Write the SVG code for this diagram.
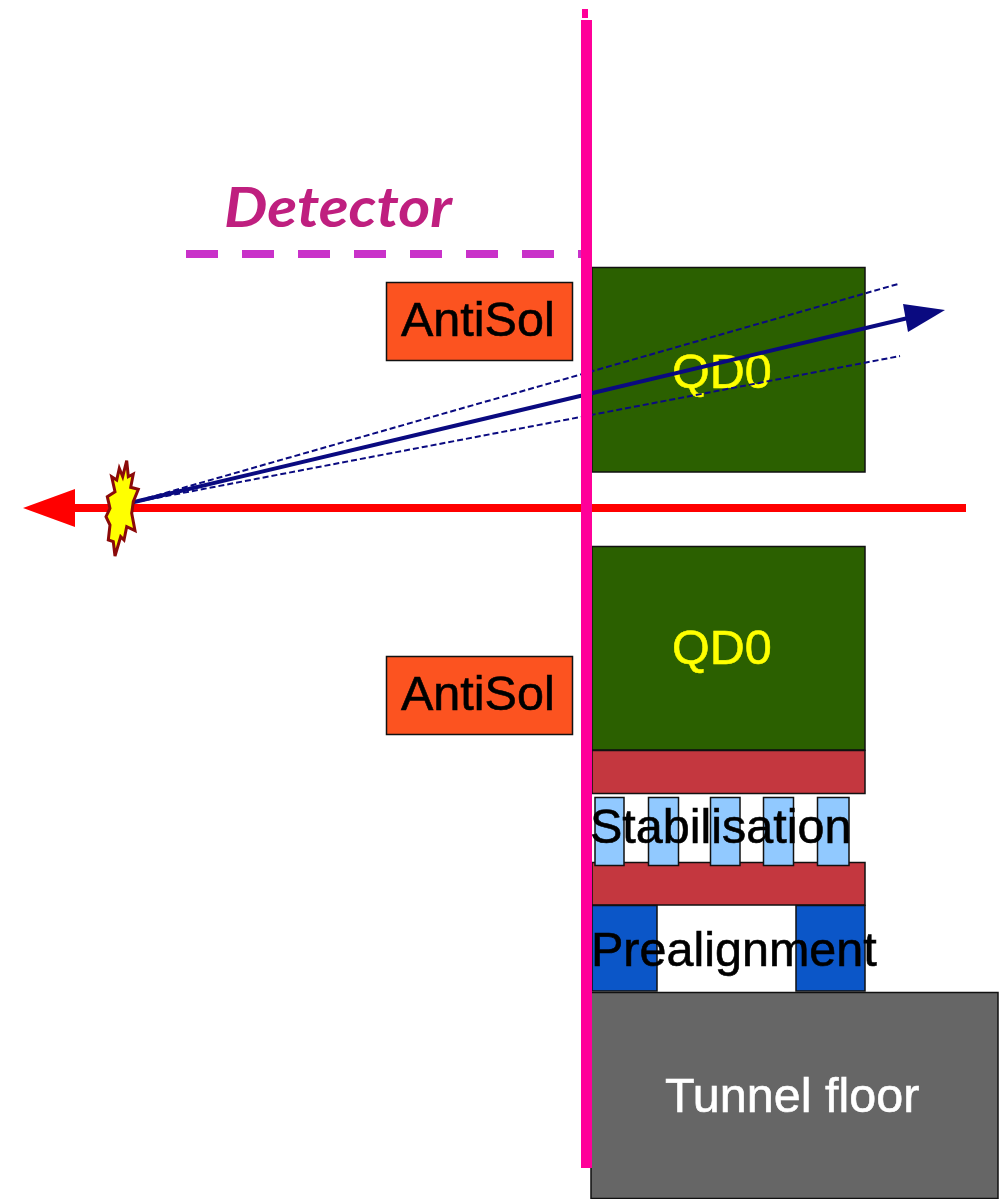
<svg xmlns="http://www.w3.org/2000/svg" width="999" height="1199" viewBox="0 0 999 1199">
<defs>
<marker id="redHead" markerUnits="userSpaceOnUse" markerWidth="54" markerHeight="38" refX="0" refY="19" orient="auto"><path d="M0 0L52 19L0 38Z" fill="#ff0000"/></marker>
</defs>
<style>
text{font-family:"Liberation Sans",Arial,sans-serif;font-size:48.500px;stroke-width:0.600px}
.box{stroke:#111;stroke-width:1.5}
.qd{fill:#2b6000}
.anti{fill:#fc5320}
.plate{fill:#c4373f}
.spring{fill:#91c9ff}
.pre{fill:#0b56c8}
.lab{fill:#000;stroke:#000}
.yel{fill:#ffff00;stroke:#ffff00}
.beam{stroke:#0a0a80;fill:none}
.dash{stroke-width:2;stroke-dasharray:6 3}
</style>
<rect width="999" height="1199" fill="#fff"/>
<g id="detector-label"><text x="224" y="227" style="font-family:Lato,'Open Sans',sans-serif;font-size:56px;font-weight:700;font-style:italic;fill:#bf1f7f;stroke:none" textLength="228" lengthAdjust="spacingAndGlyphs">Detector</text></g>
<g id="antisol-top"><rect class="box anti" x="386.500" y="282.500" width="186" height="78"/><text class="lab" x="401" y="336">AntiSol</text></g>
<g id="qd0-top"><rect class="box qd" x="592" y="267.500" width="273" height="204.500"/><text class="yel" x="672" y="388">QD0</text></g>
<g id="qd0-bottom"><rect class="box qd" x="592" y="546.500" width="273" height="203.500"/><text class="yel" x="672" y="664">QD0</text></g>
<g id="antisol-bottom"><rect class="box anti" x="386.500" y="656.500" width="186" height="78"/><text class="lab" x="401" y="710">AntiSol</text></g>
<g id="plate-upper"><rect class="box plate" x="592" y="750.500" width="273" height="43"/></g>
<g id="plate-lower"><rect class="box plate" x="592" y="862.500" width="273" height="42.500"/></g>
<g id="stabilisation">
<rect class="box spring" x="595" y="797.500" width="29" height="68"/>
<rect class="box spring" x="648.500" y="797.500" width="30" height="68"/>
<rect class="box spring" x="710.500" y="797.500" width="29.500" height="68"/>
<rect class="box spring" x="763.500" y="797.500" width="30" height="68"/>
<rect class="box spring" x="817.500" y="797.500" width="31.500" height="68"/>
<text class="lab" x="590" y="843">Stabilisation</text>
</g>
<g id="prealignment">
<rect class="box pre" x="592" y="905.500" width="65" height="85.500"/>
<rect class="box pre" x="796" y="905.500" width="69" height="85.500"/>
<text class="lab" x="591" y="966">Prealignment</text>
</g>
<g id="tunnel-floor"><rect class="box" x="591" y="992.500" width="407" height="206" fill="#666666"/><text x="665" y="1112" fill="#fff" stroke="#fff">Tunnel floor</text></g>
<g id="connectors">
<line x1="186" y1="254" x2="581" y2="254" stroke="#c932c9" stroke-width="8" stroke-dasharray="32 24"/>
<line x1="966" y1="508" x2="75" y2="508" stroke="#ff0000" stroke-width="8" marker-end="url(#redHead)"/>
<line class="beam" x1="130" y1="503" x2="908" y2="318" stroke-width="4"/>
<path d="M903 304L945 310L908 332Z" fill="#0a0a80"/>
<line class="beam dash" x1="130" y1="503" x2="898" y2="284"/>
<line class="beam dash" x1="130" y1="503" x2="900" y2="356"/>
<path d="M582 9H588V18H582Z" fill="#ff0099"/>
<line x1="586.500" y1="20" x2="586.500" y2="1168" stroke="#ff0099" stroke-width="11"/>
</g>
<g id="interaction-point"><polygon points="126.700,460.700 128.300,476.700 133.300,474 130.700,487.300 138.300,489.300 133.300,501.700 131.700,513.300 135,530.700 126.700,526.700 124,540 120.700,536.700 115,556 113.300,541.700 108.300,540 110,525 106,516.700 110,508.300 107.300,496.700 115,491.700 111.700,476.700 116.700,480 119.300,468.300 122.700,476.700" fill="#ffff00" stroke="#8b0a0a" stroke-width="3"/></g>
</svg>
